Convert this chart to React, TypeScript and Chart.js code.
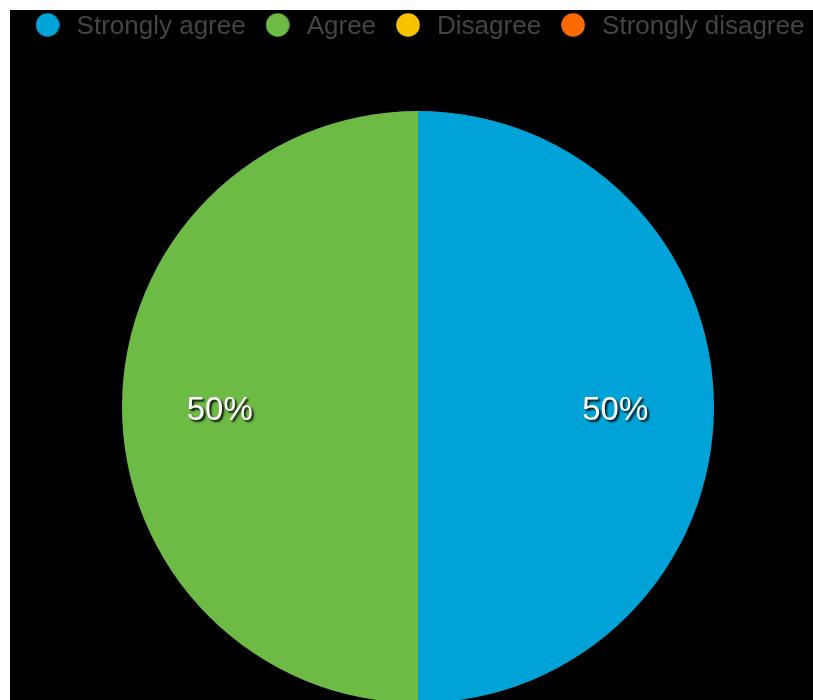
import React, { useEffect, useRef } from "react";
import { Chart, registerables } from "chart.js";

Chart.register(...registerables);

const categories = ["Strongly agree", "Agree", "Disagree", "Strongly disagree"];
const values = [50, 50, 0, 0];
const colors = ["#00A3D8", "#6DBB45", "#F7C300", "#FF6A00"];

function makeDot(color: string): HTMLCanvasElement {
  const c = document.createElement("canvas");
  c.width = 24;
  c.height = 28;
  const ctx = c.getContext("2d")!;
  ctx.fillStyle = color;
  ctx.beginPath();
  ctx.arc(12, 12, 11.8, 0, Math.PI * 2);
  ctx.fill();
  return c;
}

const labelPlugin = {
  id: "pctLabels",
  afterDatasetsDraw(chart: any) {
    const ctx = chart.ctx;
    const meta = chart.getDatasetMeta(0);
    const data = chart.data.datasets[0].data as number[];
    const total = data.reduce((a, b) => a + b, 0);
    ctx.save();
    ctx.font = "33px 'Liberation Sans', Arial, sans-serif";
    ctx.fillStyle = "#ffffff";
    ctx.textAlign = "center";
    ctx.textBaseline = "middle";
    ctx.shadowColor = "rgba(0,0,0,0.9)";
    ctx.shadowOffsetX = 2;
    ctx.shadowOffsetY = 2;
    ctx.shadowBlur = 2;
    meta.data.forEach((arc: any, i: number) => {
      const v = data[i];
      if (!v) return;
      const p = arc.getProps(["startAngle", "endAngle", "outerRadius", "x", "y"], true);
      const mid = (p.startAngle + p.endAngle) / 2;
      const r = p.outerRadius * 0.668;
      const x = p.x + Math.cos(mid) * r - 0.5;
      const y = p.y + Math.sin(mid) * r + 4;
      ctx.fillText(Math.round((v / total) * 100) + "%", x, y);
    });
    ctx.restore();
  },
};

export default function App() {
  const ref = useRef<HTMLCanvasElement>(null);
  useEffect(() => {
    if (!ref.current) return;
    const dots = colors.map(makeDot);
    const chart = new Chart(ref.current, {
      type: "pie",
      data: {
        labels: categories,
        datasets: [
          {
            data: values,
            backgroundColor: colors,
            borderWidth: 0,
            radius: 296,
          } as any,
        ],
      },
      options: {
        responsive: false,
        animation: false,
        layout: { padding: { top: -12, left: 0, right: 0, bottom: 0 } },
        plugins: {
          tooltip: { enabled: false },
          legend: {
            position: "top",
            labels: {
              usePointStyle: true,
              pointStyleWidth: 32,
              boxHeight: 17,
              padding: 16,
              color: "#444444",
              font: { size: 26, family: "'Liberation Sans', Arial, sans-serif" },
              generateLabels: (ch: any) => {
                const base = (Chart as any).overrides.pie.plugins.legend.labels.generateLabels(ch);
                return base.map((it: any, i: number) => ({ ...it, pointStyle: dots[i], lineWidth: 0 }));
              },
            },
          },
        },
      },
      plugins: [labelPlugin],
    });
    return () => chart.destroy();
  }, []);
  return (
    <div
      style={{
        position: "fixed",
        left: 10,
        top: 10,
        right: 0,
        bottom: 0,
        overflow: "hidden",
        background: "#000",
      }}
    >
      <canvas ref={ref} width={816} height={754} style={{ display: "block", background: "#000" }} />
    </div>
  );
}
